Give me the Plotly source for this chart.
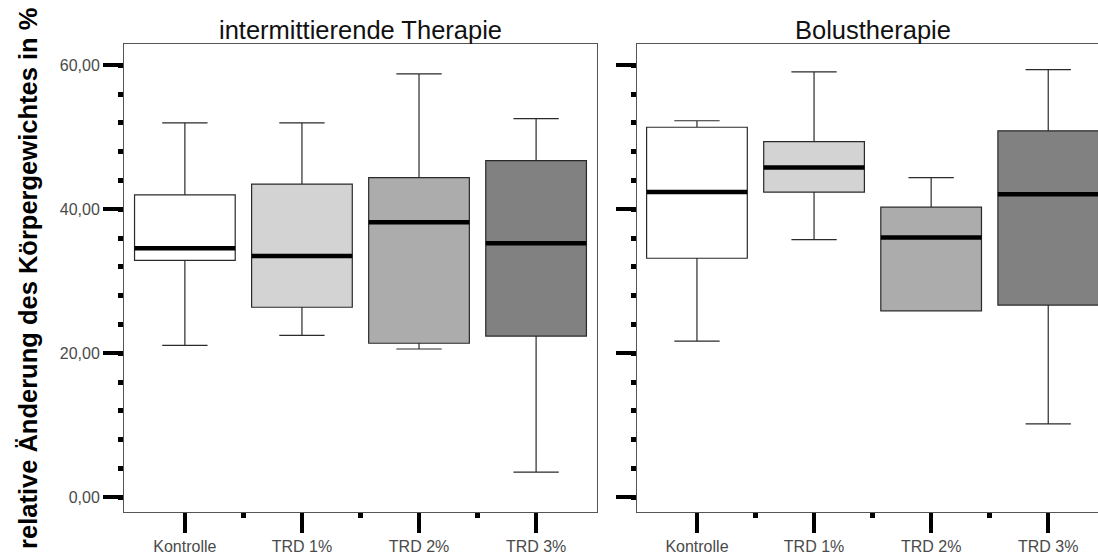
import plotly.graph_objects as go

# Groups on the x axis and their fill shades
categories = ["Kontrolle", "TRD 1%", "TRD 2%", "TRD 3%"]
fills = ["#ffffff", "#d3d3d3", "#acacac", "#818181"]

panel_titles = ["intermittierende Therapie", "Bolustherapie"]
y_title = "relative Änderung des Körpergewichtes in %"

# intermittierende Therapie: five-number summaries per group
int_min = [21.1, 22.5, 20.6, 3.5]
int_q1 = [32.9, 26.4, 21.4, 22.4]
int_med = [34.6, 33.5, 38.2, 35.3]
int_q3 = [42.0, 43.5, 44.4, 46.75]
int_max = [52.0, 52.0, 58.8, 52.6]

# Bolustherapie: five-number summaries per group
bol_min = [21.7, 35.8, 25.9, 10.2]
bol_q1 = [33.2, 42.4, 25.9, 26.7]
bol_med = [42.4, 45.8, 36.1, 42.1]
bol_q3 = [51.4, 49.4, 40.3, 50.9]
bol_max = [52.3, 59.1, 44.4, 59.4]

y_ticks = [0, 20, 40, 60]
y_tick_labels = ["0,00", "20,00", "40,00", "60,00"]

FONT = "Liberation Sans, Arial, sans-serif"
positions = list(range(len(categories)))
mids = [p + 0.5 for p in positions[:-1]]
BOX_W = 0.86

fig = go.Figure()

panels = [
    ("x", "y", int_min, int_q1, int_med, int_q3, int_max),
    ("x2", "y2", bol_min, bol_q1, bol_med, bol_q3, bol_max),
]

for xa, ya, lo, q1, med, q3, hi in panels:
    for i, cat in enumerate(categories):
        fig.add_trace(go.Box(
            x=[positions[i]], q1=[q1[i]], median=[med[i]], q3=[q3[i]],
            lowerfence=[lo[i]], upperfence=[hi[i]],
            width=BOX_W, whiskerwidth=0.45, boxpoints=False,
            fillcolor=fills[i], line=dict(color="#2a2a2a", width=1.2),
            xaxis=xa, yaxis=ya, showlegend=False, name=cat,
        ))
    # thick median bars drawn as zero-height boxes
    fig.add_trace(go.Box(
        x=positions, q1=med, median=med, q3=med,
        lowerfence=med, upperfence=med,
        width=BOX_W, whiskerwidth=0, boxpoints=False,
        fillcolor="rgba(0,0,0,0)", line=dict(color="#000000", width=4.5),
        xaxis=xa, yaxis=ya, showlegend=False, hoverinfo="skip",
    ))

xcommon = dict(
    tickmode="array", tickvals=positions, ticktext=categories,
    ticks="outside", ticklen=20, tickwidth=4, tickcolor="#000000",
    minor=dict(tickmode="array", tickvals=mids, ticks="outside",
               ticklen=5, tickwidth=5, tickcolor="#000000", showgrid=False),
    showline=True, linecolor="#555555", linewidth=1, mirror=True,
    showgrid=False, zeroline=False,
    tickfont=dict(family=FONT, size=16, color="#4a4a4a"),
)
ycommon = dict(
    range=[-2.04, 62.96], tickmode="array", tickvals=y_ticks,
    ticks="outside", ticklen=20, tickwidth=4, tickcolor="#000000",
    minor=dict(tick0=0, dtick=4, ticks="outside", ticklen=5, tickwidth=5,
               tickcolor="#000000", showgrid=False),
    showline=True, linecolor="#555555", linewidth=1,
    showgrid=False, zeroline=False,
    tickfont=dict(family=FONT, size=16, color="#4a4a4a"),
)

fig.update_layout(
    width=1098, height=557,
    margin=dict(l=124, r=0, t=44, b=45),
    paper_bgcolor="white", plot_bgcolor="white",
    boxmode="overlay",
    xaxis=dict(domain=[0, 0.4856], range=[-0.52, 3.52], **xcommon),
    xaxis2=dict(domain=[0.5267, 1], range=[-0.512, 3.425], anchor="y2", **xcommon),
    yaxis=dict(ticktext=y_tick_labels, mirror=True, **ycommon),
    yaxis2=dict(anchor="x2", ticktext=y_tick_labels, showticklabels=False,
                mirror=False, **ycommon),
    annotations=[
        dict(text=panel_titles[0], x=0.2428, y=1.03, xref="paper", yref="paper",
             xanchor="center", yanchor="middle", showarrow=False,
             font=dict(family=FONT, size=25.5, color="#111111")),
        dict(text=panel_titles[1], x=0.7685, y=1.03, xref="paper", yref="paper",
             xanchor="center", yanchor="middle", showarrow=False,
             font=dict(family=FONT, size=25.5, color="#111111")),
        dict(text="<b>" + y_title + "</b>", x=-0.0986, y=0.5, xref="paper", yref="paper",
             xanchor="center", yanchor="middle", textangle=-90, showarrow=False,
             font=dict(family=FONT, size=25.5, color="#000000")),
    ],
)

fig.write_html("out.html")
